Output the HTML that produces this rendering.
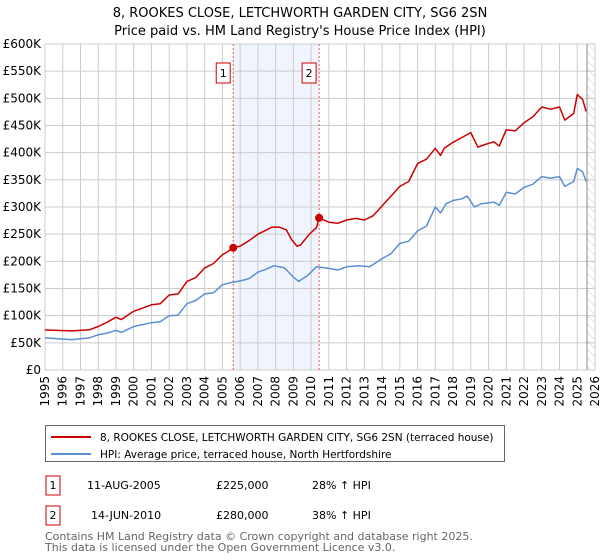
<!DOCTYPE html>
<html><head><meta charset="utf-8">
<style>
body{margin:0;background:#fff;font-family:"DejaVu Sans","Liberation Sans",sans-serif;}
svg{display:block}
</style></head>
<body>
<svg id="c" width="600" height="560" xmlns="http://www.w3.org/2000/svg">
<defs>
<pattern id="hatch" width="6" height="6" patternUnits="userSpaceOnUse" patternTransform="rotate(-45)">
<line x1="0" y1="0" x2="0" y2="6" stroke="#ccc" stroke-width="1"/>
</pattern>
</defs>
<text x="300" y="17" text-anchor="middle" font-size="13" fill="#000">8, ROOKES CLOSE, LETCHWORTH GARDEN CITY, SG6 2SN</text>
<text x="300" y="35" text-anchor="middle" font-size="13" fill="#000">Price paid vs. HM Land Registry's House Price Index (HPI)</text>
<g id="plot"></g>
<g>
<rect x="45.5" y="425.5" width="459" height="36" fill="#fff" stroke="#666"/>
<line x1="51" y1="437" x2="91" y2="437" stroke="#cc0000" stroke-width="2"/>
<text x="100" y="441" font-size="10.5">8, ROOKES CLOSE, LETCHWORTH GARDEN CITY, SG6 2SN (terraced house)</text>
<line x1="51" y1="454" x2="91" y2="454" stroke="#5b8fd4" stroke-width="2"/>
<text x="100" y="458" font-size="10.5">HPI: Average price, terraced house, North Hertfordshire</text>
</g>
<g font-size="11">
<rect x="46" y="476" width="14" height="19" fill="#fff" stroke="#cc0000"/>
<text x="53" y="489" text-anchor="middle">1</text>
<text x="87" y="489">11-AUG-2005</text>
<text x="216" y="489">£225,000</text>
<text x="312" y="489">28% ↑ HPI</text>
<rect x="46" y="506" width="14" height="19" fill="#fff" stroke="#cc0000"/>
<text x="53" y="519" text-anchor="middle">2</text>
<text x="91" y="519">14-JUN-2010</text>
<text x="216" y="519">£280,000</text>
<text x="312" y="519">38% ↑ HPI</text>
</g>
<text x="45" y="540" font-size="11" fill="#666">Contains HM Land Registry data © Crown copyright and database right 2025.</text>
<text x="45" y="551" font-size="11" fill="#666">This data is licensed under the Open Government Licence v3.0.</text>
</svg>
<script>
const yTicks=[0,50000,100000,150000,200000,250000,300000,350000,400000,450000,500000,550000,600000];
const yTickLabels=["£0","£50K","£100K","£150K","£200K","£250K","£300K","£350K","£400K","£450K","£500K","£550K","£600K"];
const xYears=[1995,1996,1997,1998,1999,2000,2001,2002,2003,2004,2005,2006,2007,2008,2009,2010,2011,2012,2013,2014,2015,2016,2017,2018,2019,2020,2021,2022,2023,2024,2025,2026];
const redT=[1995,1996.5,1997.5,1998,1998.5,1999,1999.3,2000,2001,2001.5,2002,2002.5,2003,2003.5,2004,2004.5,2005,2005.3,2005.61,2006,2006.5,2007,2007.5,2007.8,2008.2,2008.6,2008.9,2009.2,2009.4,2009.9,2010.3,2010.45,2011,2011.5,2012,2012.5,2013,2013.5,2014,2014.5,2015,2015.5,2016,2016.5,2017,2017.3,2017.5,2018,2018.5,2019,2019.4,2019.8,2020.3,2020.6,2021,2021.5,2022,2022.5,2023,2023.5,2024,2024.3,2024.8,2025,2025.3,2025.5];
const redV=[73600,72000,74000,80000,88000,97000,93000,108000,120000,122000,138000,140000,163000,170000,188000,196000,212000,218000,225000,228000,238000,250000,258000,263000,263000,258000,240000,228000,230000,250000,262000,280000,272000,270000,276000,279000,276000,284000,302000,320000,338000,347000,380000,388000,408000,395000,408000,419000,428000,437000,410000,415000,420000,412000,442000,440000,455000,466000,484000,480000,484000,460000,472000,507000,498000,476000];
const blueT=[1995,1996.5,1997.5,1998,1998.5,1999,1999.3,2000,2001,2001.5,2002,2002.5,2003,2003.5,2004,2004.5,2005,2005.5,2006,2006.5,2007,2007.5,2007.9,2008.5,2009,2009.3,2009.8,2010.3,2011,2011.5,2012,2012.7,2013.3,2014,2014.5,2015,2015.5,2016,2016.5,2017,2017.3,2017.6,2018,2018.5,2018.8,2019.2,2019.6,2020.3,2020.6,2021,2021.5,2022,2022.5,2023,2023.5,2024,2024.3,2024.8,2025,2025.3,2025.5];
const blueV=[59000,56000,59000,65000,68000,73000,69000,80000,87000,89000,100000,101000,122000,128000,140000,142000,157000,161000,164000,168000,180000,186000,192000,188000,171000,163000,174000,190000,187000,184000,190000,192000,190000,205000,214000,233000,237000,256000,265000,300000,289000,306000,312000,315000,320000,300000,306000,309000,303000,327000,324000,336000,342000,356000,353000,356000,338000,347000,371000,365000,347000];
const saleT=[2005.61,2010.45];
const saleV=[225000,280000];
const saleLabels=["1","2"];
const dataEndT=2025.55;

const X0=45,X1=595,Y0=370,Y1=44;
const xs=t=>X0+(t-1995)/(2026-1995)*(X1-X0);
const ys=v=>Y0-v/600000*(Y0-Y1);
const NS="http://www.w3.org/2000/svg";
const g=document.getElementById('plot');
function mk(tag,attrs,parent){const e=document.createElementNS(NS,tag);for(const k in attrs)e.setAttribute(k,attrs[k]);(parent||g).appendChild(e);return e;}

let sh=mk('rect',{x:xs(saleT[0]),y:Y1,width:xs(saleT[1])-xs(saleT[0]),height:Y0-Y1,fill:'#f0f4fc'});


let hz=mk('rect',{x:xs(dataEndT),y:Y1,width:X1-xs(dataEndT),height:Y0-Y1,fill:'url(#hatch)'});


xYears.forEach(yr=>{
  let l=mk('line',{x1:xs(yr),x2:xs(yr),y1:Y1,y2:Y0,stroke:'#cccccc','stroke-width':1});
  
  
  let t=mk('text',{x:0,y:0,'font-size':12,fill:'#000','text-anchor':'end',transform:`translate(${xs(yr)+4},376) rotate(-90)`});
  t.textContent=yr;
  
  
});
yTicks.forEach((v,i)=>{
  let l=mk('line',{x1:X0,x2:X1,y1:ys(v),y2:ys(v),stroke:'#cccccc','stroke-width':1});
  
  
  let t=mk('text',{x:41,y:ys(v)+4,'font-size':12,fill:'#000','text-anchor':'end'});
  t.textContent=yTickLabels[i];
  
  
});
let el=mk('line',{x1:xs(dataEndT),x2:xs(dataEndT),y1:Y1,y2:Y0,stroke:'#888','stroke-width':1});


saleT.forEach((t,i)=>{
  let l=mk('line',{x1:xs(t),x2:xs(t),y1:Y1,y2:Y0,stroke:'#ee5555','stroke-width':1,'stroke-dasharray':'2,2'});
  
  
  let r=mk('rect',{x:xs(t)-17,y:63,width:14,height:20,fill:'#fff',stroke:'#cc0000'});
  
  
  let tx=mk('text',{x:xs(t)-10,y:77,'font-size':11,'text-anchor':'middle'});
  tx.textContent=saleLabels[i];
  
  
});
function line(T,V,color,name){
  let d=T.map((t,i)=>(i?'L':'M')+xs(t).toFixed(1)+','+ys(V[i]).toFixed(1)).join('');
  let p=mk('path',{d:d,fill:'none',stroke:color,'stroke-width':1.5,'stroke-linejoin':'round'});
  
  
}
line(blueT,blueV,'#5b8fd4','hpi-line');
line(redT,redV,'#cc0000','property-price-line');
saleT.forEach((t,i)=>{
  let c=mk('circle',{cx:xs(t),cy:ys(saleV[i]),r:4,fill:'#cc0000'});
  
  
});
</script>
</body></html>
